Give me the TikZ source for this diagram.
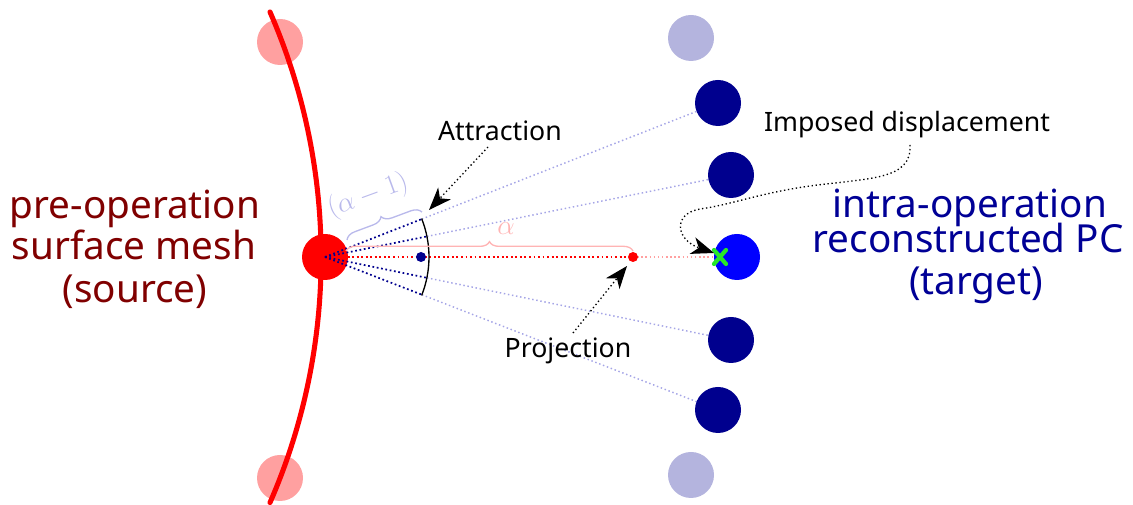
\documentclass[tikz,border=0pt]{standalone}
\usepackage{fontspec}
\setmainfont{Noto Sans}
\usetikzlibrary{calc,arrows.meta,decorations.pathreplacing}
\definecolor{maroonT}{RGB}{128,0,0}
\definecolor{navyC}{RGB}{0,0,142}
\definecolor{navyT}{RGB}{0,0,150}
\definecolor{paleblue}{RGB}{180,180,222}
\definecolor{pinkC}{RGB}{255,160,160}
\definecolor{lineblue}{RGB}{165,165,230}
\definecolor{bracered}{RGB}{255,180,180}
\definecolor{braceblue}{RGB}{185,185,235}
\definecolor{greenX}{RGB}{40,230,40}
\pgfdeclarelayer{bg}
\pgfsetlayers{bg,main}
\begin{document}
\begin{tikzpicture}[x=0.75pt,y=-0.75pt,
  pt/.style={circle,minimum size=34.5pt,inner sep=0pt,draw=none},
  smalldot/.style={circle,minimum size=7.5pt,inner sep=0pt,draw=none},
  bigtext/.style={font=\fontsize{29}{34}\selectfont,inner sep=0pt},
  smalltext/.style={font=\fontsize{20}{24}\selectfont,inner sep=0pt},
  lightline/.style={lineblue,dotted,line width=1.1pt},
  darkline/.style={navyC,dotted,line width=1.3pt},
  dotarrow/.style={black,dotted,line width=1pt,-{Stealth[length=17pt,width=13pt,inset=5pt]}},
  ]
\useasboundingbox (0,0) rectangle (1133,505);

% source side
\node[pt,fill=pinkC] (pk1) at (280,42) {};
\node[pt,fill=pinkC] (pk2) at (280,478) {};
\coordinate (cTop) at (270,12);
\draw[red,line width=3.8pt,line cap=round] (cTop) arc (-23.55:23.55:614);
\node[pt,fill=red] (src) at (325,257) {};

% target side
\node[pt,fill=paleblue] (t0) at (691,38) {};
\node[pt,fill=navyC] (t1) at (718,103) {};
\node[pt,fill=navyC] (t2) at (731,175) {};
\node[pt,fill=blue] (tc) at (737,257) {};
\node[pt,fill=navyC] (t3) at (731,340) {};
\node[pt,fill=navyC] (t4) at (718,410) {};
\node[pt,fill=paleblue] (t5) at (691,475) {};

% small dots
\node[smalldot,fill=navyC] (nd) at (421,257) {};
\node[smalldot,fill=red] (rd) at (633,257) {};

% split points on the arc
\foreach \t in {t1,t2,t3,t4}{
  \coordinate (a\t) at ($(src.center)!78pt!(\t.center)$);
}
\begin{pgfonlayer}{bg}
  \foreach \t in {t1,t2,t3,t4}{
    \draw[lightline] (a\t) -- (\t.center);
  }
  \draw[pinkC,dotted,line width=1.1pt] (rd.center) -- (tc.center);
  \draw[red,dotted,line width=1.4pt] (src.center) -- (rd.center);
\end{pgfonlayer}
\foreach \t in {t1,t2,t3,t4}{
  \draw[darkline] (src.center) -- (a\t);
}

% arc
\coordinate (arcT) at ($(src.center)+(-21.7:104)$);
\draw[black,line width=1pt] (arcT) arc (-21.7:21.7:104);

% braces
\coordinate (bpL) at (346,251);
\coordinate (bpR) at (633,251);
\draw[bracered,line width=1pt,decorate,decoration={brace,amplitude=7pt}] (bpL) -- (bpR);
\node[bracered,font=\fontsize{20}{24}\selectfont,inner sep=0pt] (alab) at (506,229) {$\alpha$};
\coordinate (bbL) at (347,240);
\coordinate (bbR) at (422,212);
\draw[braceblue,line width=1pt,decorate,decoration={brace,amplitude=7.5pt}] (bbL) -- (bbR);
\node[braceblue,font=\fontsize{21}{24}\selectfont,inner sep=0pt,rotate=20] (blab) at (368,196) {$(\alpha-1)$};

% green cross
\coordinate (xc) at (720,257);
\draw[greenX,line width=3.2pt,line cap=round] ($(xc)+(-6,-7)$) -- ($(xc)+(6,7)$);
\draw[greenX,line width=3.2pt,line cap=round] ($(xc)+(-6,7)$) -- ($(xc)+(6,-7)$);

% labels
\node[bigtext,maroonT] (s1) at (135,209) {pre-operation};
\node[bigtext,maroonT] (s2) at (134,245) {surface mesh};
\node[bigtext,maroonT] (s3) at (135,292) {(source)};
\node[bigtext,navyT] (r1) at (970,208) {intra-operation};
\node[bigtext,navyT] (r2) at (968,238) {reconstructed PC};
\node[bigtext,navyT] (r3) at (976,285) {(target)};

\node[smalltext] (attr) at (500,131) {Attraction};
\node[smalltext] (proj) at (568,351) {Projection};
\node[smalltext] (imp) at (907,125) {Imposed displacement};

% arrows
\coordinate (attrS) at (488,147);
\coordinate (attrE) at (429,210);
\draw[dotarrow] (attrS) -- (attrE);
\coordinate (projS) at (573,333);
\coordinate (projE) at (627,266);
\draw[dotarrow] (projS) -- (projE);
\coordinate (impS) at (910,145);
\coordinate (impE) at (714,253);
\draw[dotarrow] (impS) .. controls (912,180) and (870,178) .. (810,186)
  .. controls (760,193) and (730,205) .. (700,209)
  .. controls (672,214) and (676,240) .. (impE);
\end{tikzpicture}
\end{document}
